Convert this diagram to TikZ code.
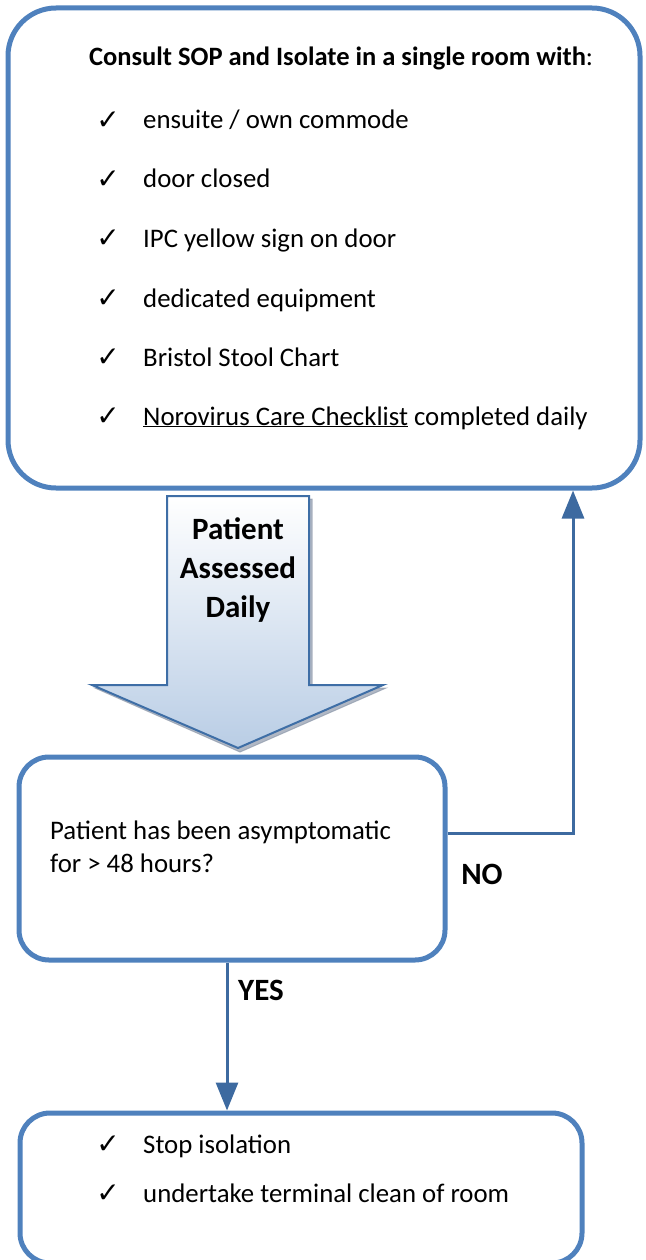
\documentclass[tikz,border=0pt]{standalone}
\usepackage{fontspec}
\setmainfont{Carlito}
\newfontfamily\symfont{DejaVu Sans}
\usetikzlibrary{arrows.meta}
\definecolor{boxblue}{HTML}{4F81BD}
\definecolor{linkblue}{HTML}{3D6AA0}
\definecolor{arrowfill}{HTML}{B9CDE5}
\definecolor{arrowedge}{HTML}{3E6EA6}
\definecolor{shadowgrey}{HTML}{8E99AB}
\begin{document}
\begin{tikzpicture}[x=1pt,y=-1pt,
  box/.style={draw=boxblue, line width=5pt, rounded corners=#1, inner sep=0pt, fill=white},
  txt/.style={anchor=base west, inner sep=0pt, font=\fontsize{26.8}{32}\selectfont},
  chk/.style={anchor=mid, inner sep=0pt, font=\symfont\fontsize{28}{30}\selectfont},
  lbl/.style={inner sep=0pt, anchor=base, font=\fontsize{26.5}{32}\selectfont\bfseries},
  biglbl/.style={inner sep=0pt, anchor=base, font=\fontsize{31}{36}\selectfont\bfseries},
  conn/.style={draw=linkblue, line width=3pt},
  tip/.style={-{Triangle[width=22pt,length=28pt]}}
]
\useasboundingbox (0,0) rectangle (645,1260);

% top box
\node[box=48pt, minimum width=632pt, minimum height=480pt] (top) at (324,248) {};
\node[lbl] (hdr) at (341,66) {Consult SOP and Isolate in a single room with\mdseries:};
\foreach \i/\yy/\t in {1/129/{ensuite / own commode},
                       2/188/{door closed},
                       3/247/{IPC yellow sign on door},
                       4/307/{dedicated equipment},
                       5/366/{Bristol Stool Chart},
                       6/425/{\underline{Norovirus Care Checklist} completed daily}}{
  \node[chk] (c\i) at (108,\yy-2) {✓};
  \node[txt] (t\i) at (143,\yy) {\t};
}

% big down arrow
\draw[draw=shadowgrey, fill=shadowgrey, opacity=0.7, line width=1pt]
  (170,499) -- (312,499) -- (312,688) -- (386,688) -- (240,752) -- (95,688) -- (170,688) -- cycle;
\shade[top color=white, bottom color=arrowfill, draw=arrowedge, line width=2pt, line join=miter]
  (167,496) -- (309,496) -- (309,685) -- (383,685) -- (238,748) -- (92,685) -- (167,685) -- cycle;
\node[biglbl] (pa1) at (238,539) {Patient};
\node[biglbl] (pa2) at (238,578) {Assessed};
\node[biglbl] (pa3) at (238,617) {Daily};

% middle box
\node[box=30pt, minimum width=426pt, minimum height=203pt] (mid) at (232,858.5) {};
\node[txt] (q1) at (50,839) {Patient has been asymptomatic};
\node[txt] (q2) at (50,872) {for > 48 hours?};

% bottom box
\node[box=30pt, minimum width=562pt, minimum height=150pt] (bot) at (301,1188) {};
\node[chk] (s1c) at (108,1151) {✓};
\node[txt] (s1) at (143,1153) {Stop isolation};
\node[chk] (s2c) at (108,1200) {✓};
\node[txt] (s2) at (143,1202) {undertake terminal clean of room};

% connectors
\coordinate (nox) at (573,0);
\coordinate (yesx) at (227,0);
\draw[conn, tip] ([yshift=25.5pt]mid.east) -| (top.south -| nox);
\draw[conn, tip] (mid.south -| yesx) -- (bot.north -| yesx);
\node[biglbl] (no) at (482,884) {NO};
\node[biglbl] (yes) at (261,1000) {YES};
\end{tikzpicture}
\end{document}
